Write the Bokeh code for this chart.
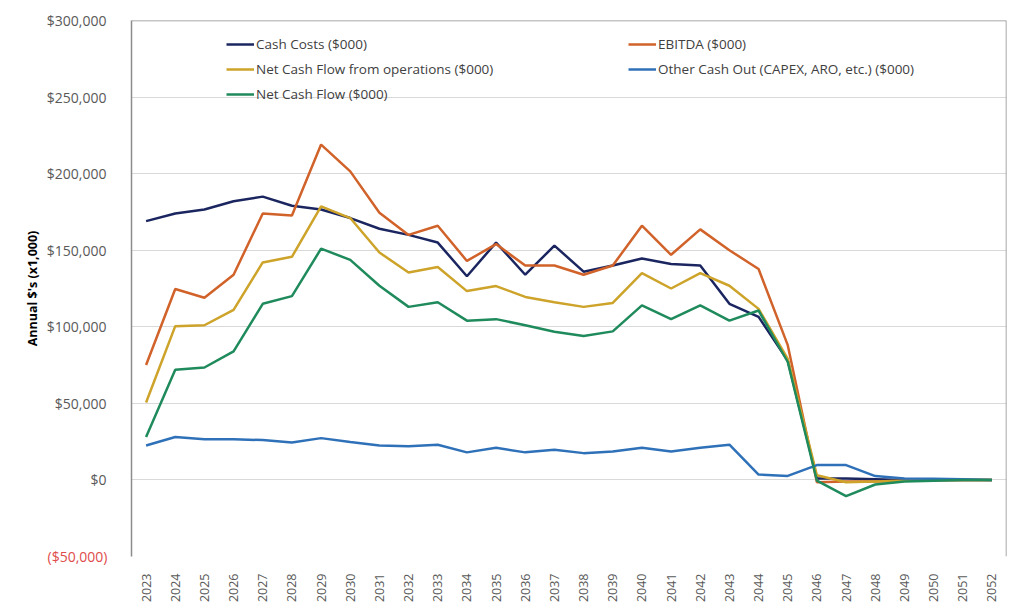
from bokeh.plotting import figure
from bokeh.models import (Range1d, FixedTicker, NumeralTickFormatter, Legend, LegendItem,
                          Span, LinearAxis)
from bokeh.embed import file_html
from bokeh.resources import INLINE
import math

years = [2023, 2024, 2025, 2026, 2027, 2028, 2029, 2030, 2031, 2032,
         2033, 2034, 2035, 2036, 2037, 2038, 2039, 2040, 2041, 2042,
         2043, 2044, 2045, 2046, 2047, 2048, 2049, 2050, 2051, 2052]

cash_costs = [169000, 174000, 176600, 182000, 185000, 179000, 176600, 171000, 164000, 160000,
              155000, 133000, 155000, 134000, 153000, 136000, 140000, 144600, 141000, 140000,
              115000, 106500, 78000, 1000, 1000, 500, 0, 0, 0, 0]
ebitda = [75000, 124700, 119000, 134000, 174000, 172700, 219000, 201500, 174500, 160000,
          166000, 143000, 154000, 140000, 140000, 134000, 140000, 166000, 147000, 163600,
          150000, 137700, 88000, -1500, -1000, -1000, -500, 0, 0, 0]
ncf_ops = [50600, 100400, 101000, 111000, 142000, 145700, 178600, 171000, 148500, 135500,
           139000, 123300, 126600, 119500, 116000, 113000, 115600, 135000, 125000, 135000,
           126800, 111700, 79000, 3000, -1500, -1000, -500, 0, 0, 0]
other_out = [22500, 28000, 26600, 26600, 26000, 24500, 27300, 24700, 22500, 22000,
             23000, 18000, 21000, 18000, 19700, 17500, 18600, 21000, 18600, 21000,
             23000, 3500, 2600, 9700, 9700, 2500, 1000, 800, 400, 0]
ncf = [28000, 72000, 73400, 84000, 115000, 120000, 151000, 143700, 126800, 113000,
       116000, 104000, 105000, 101000, 96700, 94000, 97000, 114000, 105000, 114000,
       104000, 110600, 77000, -500, -10600, -3000, -1000, -500, 0, 0]

series_names = ["Cash Costs ($000)", "EBITDA ($000)", "Net Cash Flow from operations ($000)",
                "Other Cash Out (CAPEX, ARO, etc.) ($000)", "Net Cash Flow ($000)"]
series_values = [cash_costs, ebitda, ncf_ops, other_out, ncf]
series_colors = ["#1B2660", "#D0622A", "#CDA32A", "#2F71B8", "#1F8A5B"]

y_ticks = [-50000, 0, 50000, 100000, 150000, 200000, 250000, 300000]

FONT = "Open Sans"
LEFT = 131
STANDOFF = 19

p = figure(width=1010, height=605, output_backend="svg", toolbar_location=None,
           x_range=Range1d(years[0] - 0.5, years[-1] + 0.5),
           y_range=Range1d(y_ticks[0], y_ticks[-1]),
           min_border_left=LEFT, min_border_right=4, min_border_top=20, min_border_bottom=47)
p.outline_line_color = None
p.background_fill_color = "white"
p.border_fill_color = "white"

renderers = []
for vals, col in zip(series_values, series_colors):
    r = p.line(years, vals, line_color=col, line_width=2.5)
    renderers.append(r)

# Axes
p.xaxis.ticker = FixedTicker(ticks=years)
p.xaxis.major_label_orientation = math.pi / 2
p.xaxis.axis_line_color = None
p.xaxis.major_tick_line_color = None
p.xaxis.minor_tick_line_color = None
p.xaxis.major_label_text_font = FONT
p.xaxis.major_label_text_font_size = "12.5px"
p.xaxis.major_label_text_color = "#595959"
p.xaxis.major_label_standoff = 11
p.xgrid.grid_line_color = None

p.yaxis.ticker = FixedTicker(ticks=y_ticks)
p.yaxis.formatter = NumeralTickFormatter(format="$0,0")
p.yaxis.major_label_overrides = {y_ticks[0]: ""}
p.yaxis.axis_line_color = "#8c8c8c"
p.yaxis.axis_line_width = 1.5
p.yaxis.major_tick_line_color = None
p.yaxis.minor_tick_line_color = None
p.yaxis.major_label_text_font = FONT
p.yaxis.major_label_text_font_size = "14px"
p.yaxis.major_label_text_color = "#595959"
p.yaxis.major_label_standoff = STANDOFF
p.yaxis.axis_label = "Annual $'s (x1,000)"
p.yaxis.axis_label_text_font = FONT
p.yaxis.axis_label_text_font_style = "bold"
p.yaxis.axis_label_text_font_size = "12.5px"
p.yaxis.axis_label_text_color = "#000000"
p.yaxis.axis_label_standoff = 3
p.ygrid.grid_line_color = "#d9d9d9"
p.ygrid.grid_line_width = 1

# second (outer) left axis carrying only the red negative label, pulled back under the first one
red_axis = LinearAxis(ticker=FixedTicker(ticks=[y_ticks[0]]),
                      formatter=NumeralTickFormatter(format="($0,0)"))
red_axis.axis_line_color = None
red_axis.major_tick_line_color = None
red_axis.minor_tick_line_color = None
red_axis.major_label_text_font = FONT
red_axis.major_label_text_font_size = "14px"
red_axis.major_label_text_color = "#E04B4B"
red_axis.major_label_standoff = -93
p.add_layout(red_axis, "left")

# top and right border of plot area
p.add_layout(Span(location=y_ticks[-1], dimension="width", line_color="#8c8c8c", line_width=1.5))
p.add_layout(Span(location=years[-1] + 0.5, dimension="height", line_color="#8c8c8c", line_width=1.5))

def make_legend(idx, loc):
    lg = Legend(items=[LegendItem(label=series_names[i], renderers=[renderers[i]]) for i in idx],
                location=loc, orientation="vertical")
    lg.border_line_color = None
    lg.background_fill_alpha = 0
    lg.padding = 0
    lg.margin = 0
    lg.spacing = 5
    lg.glyph_width = 28
    lg.glyph_height = 20
    lg.label_height = 20
    lg.label_standoff = 2
    lg.label_text_font = FONT
    lg.label_text_font_size = "13.5px"
    lg.label_text_color = "#404040"
    return lg

p.add_layout(make_legend([0, 2, 4], (95, 452)))
p.add_layout(make_legend([1, 3], (497, 477)))

open("out.html", "w").write(file_html(p, INLINE))
